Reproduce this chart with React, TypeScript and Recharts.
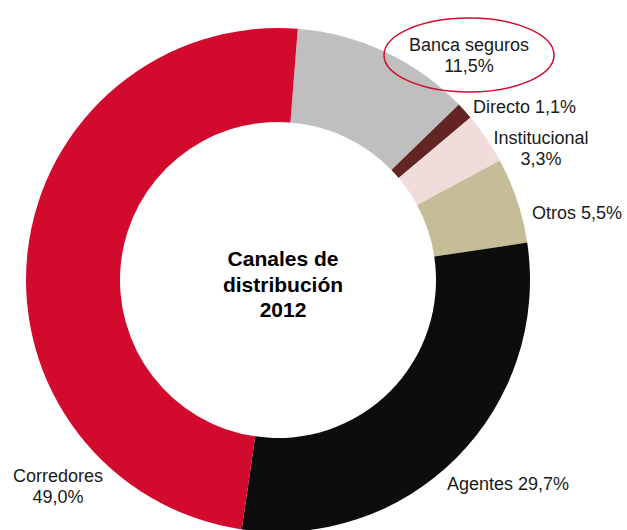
import { PieChart, Pie, Cell } from 'recharts'

const canales = ['Banca seguros', 'Directo', 'Institucional', 'Otros', 'Agentes', 'Corredores']
const porcentajes = [11.5, 1.1, 3.3, 5.5, 29.7, 49.0]
const etiquetas = [
    ['Banca seguros', '11,5%'],
    ['Directo 1,1%'],
    ['Institucional', '3,3%'],
    ['Otros 5,5%'],
    ['Agentes 29,7%'],
    ['Corredores', '49,0%'],
]
const colores = ['#bfbfbf', '#632523', '#f2dcdb', '#c4bd97', '#0d0d0d', '#d20a2e']

// where each label sits (anchor point of first line baseline)
const labelPos = [
    { x: 469, y: 51, anchor: 'middle' },
    { x: 473, y: 113, anchor: 'start' },
    { x: 541, y: 144, anchor: 'middle' },
    { x: 532, y: 219, anchor: 'start' },
    { x: 447, y: 490, anchor: 'start' },
    { x: 58, y: 482, anchor: 'middle' },
]

const data = canales.map((name, i) => ({ name, value: porcentajes[i] }))

const FONT = '"Liberation Sans", Arial, sans-serif'

function renderLabel(props: any) {
    const i = props.index
    const pos = labelPos[i]
    const lines = etiquetas[i]
    return (
        <g key={`lbl-${i}`}>
            {i === 0 && (
                <ellipse cx={469} cy={55} rx={85} ry={37} fill="none" stroke="#d20a2e" strokeWidth={1.5} />
            )}
            {lines.map((t, j) => (
                <text
                    key={j}
                    x={pos.x}
                    y={pos.y + j * 21}
                    textAnchor={pos.anchor as any}
                    fontFamily={FONT}
                    fontSize={18}
                    fill="#1a1a1a"
                >
                    {t}
                </text>
            ))}
        </g>
    )
}

export default function App() {
    return (
        <div style={{ position: 'fixed', left: 0, top: 0, width: 627, height: 530, background: '#fff' }}>
            <PieChart width={627} height={530} margin={{ top: 0, right: 0, bottom: 0, left: 0 }}>
                <Pie
                    data={data}
                    dataKey="value"
                    nameKey="name"
                    cx={278}
                    cy={280}
                    innerRadius={158}
                    outerRadius={252}
                    startAngle={85.5}
                    endAngle={-274.5}
                    stroke="none"
                    label={renderLabel}
                    labelLine={false}
                    isAnimationActive={false}
                >
                    {data.map((d, i) => (
                        <Cell key={d.name} fill={colores[i]} />
                    ))}
                </Pie>
            </PieChart>
            <svg width={627} height={530} style={{ position: 'absolute', left: 0, top: 0, pointerEvents: 'none' }}>
                <g fontFamily={FONT} fontSize={21} fontWeight="bold" fill="#000" textAnchor="middle">
                    <text x={283} y={266}>Canales de</text>
                    <text x={283} y={292}>distribución</text>
                    <text x={283} y={317}>2012</text>
                </g>
            </svg>
        </div>
    )
}
